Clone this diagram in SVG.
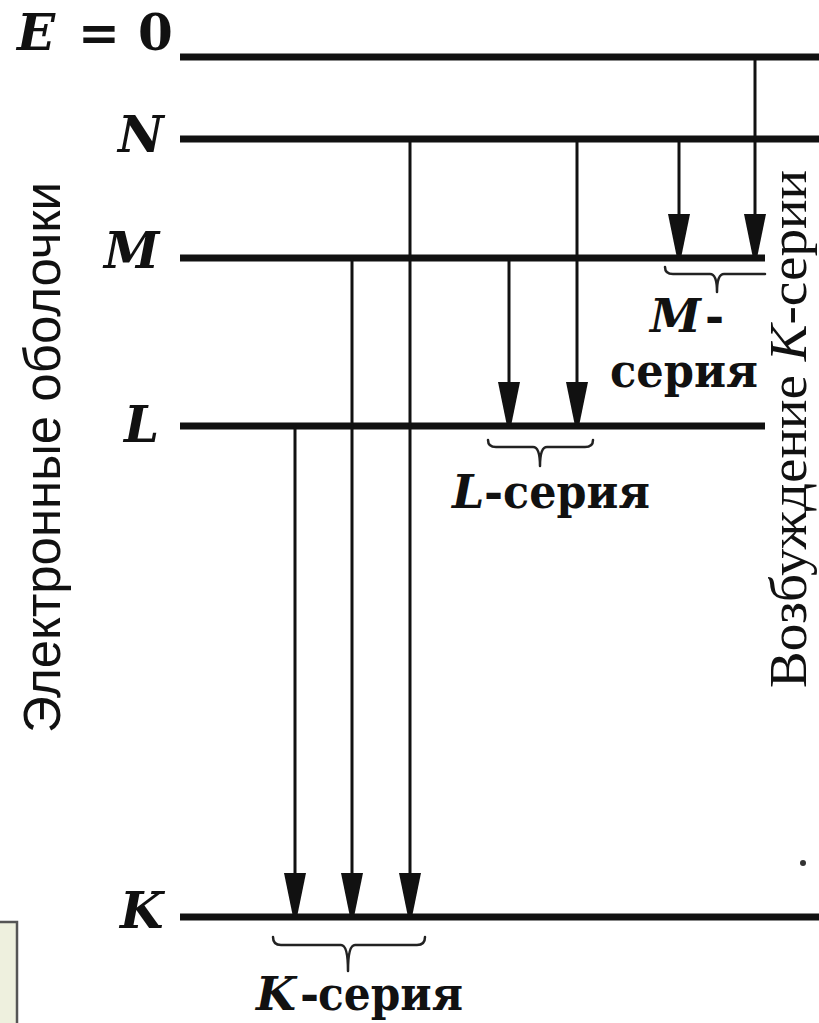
<svg xmlns="http://www.w3.org/2000/svg" width="819" height="1023" viewBox="0 0 819 1023">
<style>
.lvl{stroke:#111;stroke-width:7;fill:none}
.sh{stroke:#111;stroke-width:3;fill:none}
.br{stroke:#222;stroke-width:2.5;fill:none;stroke-linejoin:round;stroke-linecap:round}
.cap{font-family:"DejaVu Serif","Liberation Serif",serif;font-weight:bold;font-style:italic;font-size:50px;fill:#111}
.num{font-family:"DejaVu Serif","Liberation Serif",serif;font-weight:bold;font-size:50px;fill:#111}
.ser{font-family:"DejaVu Serif","Liberation Serif",serif;font-weight:bold;font-size:46px;fill:#111}
.seri{font-family:"DejaVu Serif","Liberation Serif",serif;font-weight:bold;font-style:italic;font-size:46px;fill:#111}
.side{font-family:"Liberation Sans",Arial,sans-serif;font-size:52px;fill:#111}
.vert{font-family:"Liberation Serif","DejaVu Serif",serif;font-size:53px;fill:#111}
</style>
<defs>
<marker id="ah" markerUnits="userSpaceOnUse" markerWidth="46" markerHeight="24" viewBox="0 -12 46 24" refX="44" refY="0" orient="auto">
<path d="M0,-11 L44,-2 L44,2 L0,11 Z" fill="#111"/>
</marker>
</defs>
<rect width="819" height="1023" fill="#ffffff"/>

<g id="box">
<rect x="-4" y="922" width="21" height="110" fill="#eef0de" stroke="#555" stroke-width="2.5"/>
</g>

<g id="level-E0">
<line class="lvl" x1="180" y1="57" x2="819" y2="57"/>
<text class="cap" x="17" y="50">E</text>
<text class="num" x="78" y="50">=</text>
<text class="num" x="138" y="50">0</text>
</g>
<g id="level-N">
<line class="lvl" x1="180" y1="139" x2="819" y2="139"/>
<text class="cap" x="118" y="152">N</text>
</g>
<g id="level-M">
<line class="lvl" x1="180" y1="258" x2="765" y2="258"/>
<text class="cap" x="104" y="268">M</text>
</g>
<g id="level-L">
<line class="lvl" x1="180" y1="426" x2="765" y2="426"/>
<text class="cap" x="124" y="442">L</text>
</g>
<g id="level-K">
<line class="lvl" x1="180" y1="917" x2="819" y2="917"/>
<text class="cap" x="120" y="928">K</text>
</g>

<g id="connectors">
<line class="sh" x1="755" y1="58" x2="755" y2="258" marker-end="url(#ah)"/>
<line class="sh" x1="679" y1="139" x2="679" y2="258" marker-end="url(#ah)"/>
<line class="sh" x1="577" y1="139" x2="577" y2="426" marker-end="url(#ah)"/>
<line class="sh" x1="509" y1="258" x2="509" y2="426" marker-end="url(#ah)"/>
<line class="sh" x1="410" y1="139" x2="410" y2="917" marker-end="url(#ah)"/>
<line class="sh" x1="352" y1="258" x2="352" y2="917" marker-end="url(#ah)"/>
<line class="sh" x1="295" y1="426" x2="295" y2="917" marker-end="url(#ah)"/>
</g>

<g id="M-series">
<path class="br" d="M665,267 Q665,274 673,274 L710,274 Q717,274 717,292 Q717,274 724,274 L765,274"/>
<text class="ser" x="650" y="332"><tspan font-style="italic">M</tspan><tspan dx="4">-</tspan></text>
<text class="ser" x="610" y="387" textLength="148" lengthAdjust="spacingAndGlyphs">серия</text>
</g>
<g id="L-series">
<path class="br" d="M488,440 Q488,447 496,447 L533,447 Q540,447 540,466 Q540,447 547,447 L585,447 Q593,447 593,440"/>
<text class="seri" x="452" y="508">L</text>
<text class="ser" x="484" y="508">-</text>
<text class="ser" x="503" y="508" textLength="147" lengthAdjust="spacingAndGlyphs">серия</text>
</g>
<g id="K-series">
<path class="br" d="M273,937 Q273,945 281,945 L341,945 Q348,945 348,971 Q348,945 355,945 L417,945 Q425,945 425,937"/>
<text class="seri" x="256" y="1010">K</text>
<text class="ser" x="300" y="1010">-</text>
<text class="ser" x="318" y="1010" textLength="145" lengthAdjust="spacingAndGlyphs">серия</text>
</g>

<g id="label-shells">
<text class="side" transform="translate(60,733) rotate(-90)" textLength="551" lengthAdjust="spacingAndGlyphs">Электронные оболочки</text>
</g>
<g id="label-excitation">
<text class="vert" transform="translate(806,688) rotate(-90)" textLength="518" lengthAdjust="spacingAndGlyphs">Возбуждение <tspan font-style="italic">K</tspan>-серии</text>
</g>
<g id="dot">
<circle cx="803" cy="863" r="3" fill="#333"/>
</g>
</svg>
